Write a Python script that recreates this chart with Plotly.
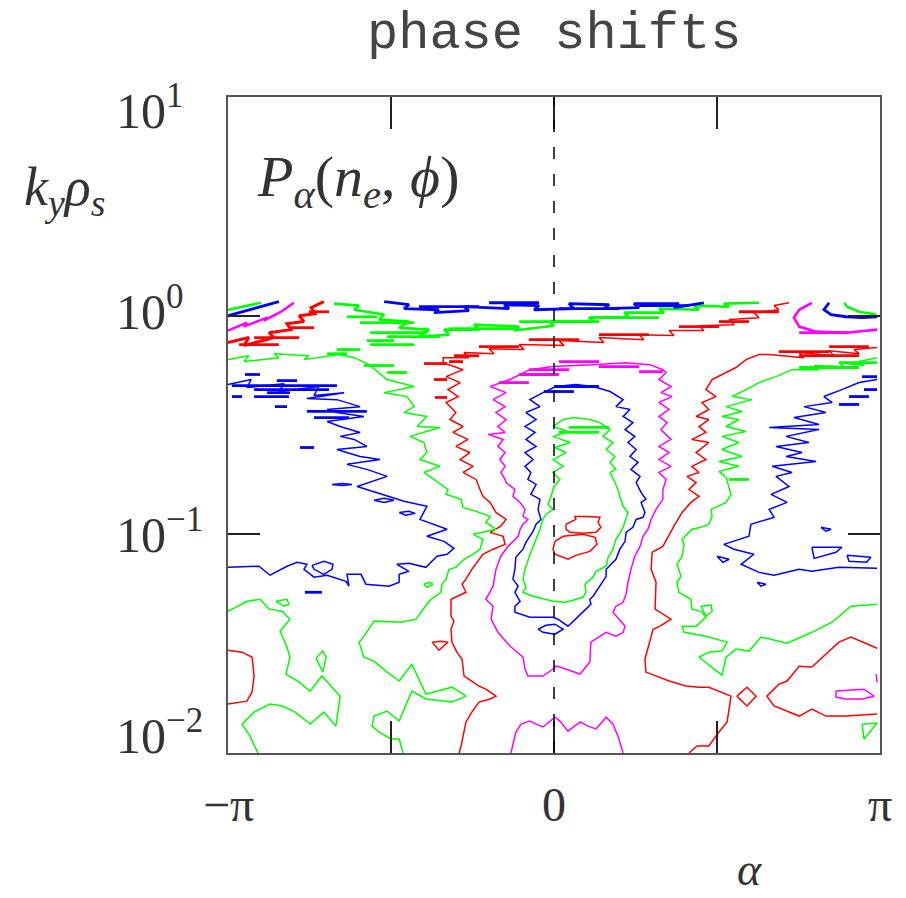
import numpy as np
import plotly.graph_objects as go

# ---------------------------------------------------------------------------
# Data.  Each contour is a list of (alpha/pi, log10(k_y rho_s))
# ---------------------------------------------------------------------------
red_core1 = [(0.037,-0.954),(0.067,-0.932),(0.064,-0.918),(0.098,-0.918),(0.141,-0.922),(0.135,-0.945),
             (0.144,-0.968),(0.129,-0.991),(0.089,-0.995),(0.049,-0.991),(0.037,-0.977),(0.037,-0.954)]
red_core2 = [(0.003,-1.032),(0.028,-1.009),(0.089,-1.000),(0.126,-1.014),(0.132,-1.046),(0.110,-1.078),
             (0.067,-1.096),(0.043,-1.114),(0.003,-1.091),(-0.003,-1.068),(0.003,-1.032)]

green_core = [(0.028,-0.475),(0.061,-0.466),(0.110,-0.475),(0.141,-0.489),(0.172,-0.521),(0.150,-0.552),
              (0.181,-0.580),(0.160,-0.612),(0.187,-0.644),(0.172,-0.671),(0.190,-0.703),(0.172,-0.717),
              (0.187,-0.763),(0.196,-0.795),(0.202,-0.826),(0.212,-0.872),(0.227,-0.900),(0.221,-0.932),
              (0.212,-0.968),(0.190,-1.023),(0.181,-1.068),(0.166,-1.105),(0.160,-1.146),(0.129,-1.169),
              (0.120,-1.196),(0.095,-1.228),(0.098,-1.265),(0.089,-1.288),(0.037,-1.311),(-0.003,-1.306),
              (-0.064,-1.283),(-0.095,-1.265),(-0.086,-1.242),(-0.095,-1.205),(-0.089,-1.160),(-0.071,-1.082),
              (-0.055,-1.023),(-0.043,-0.977),(-0.034,-0.932),(-0.025,-0.909),(-0.003,-0.886),(-0.018,-0.863),
              (-0.009,-0.826),(0.000,-0.781),(0.018,-0.749),(-0.003,-0.717),(0.028,-0.689),(-0.003,-0.658),
              (0.037,-0.626),(0.003,-0.603),(0.049,-0.580),(-0.003,-0.552),(0.043,-0.530),(-0.003,-0.507),
              (0.028,-0.475)]

blue_core = [(-0.034,-0.352),(0.006,-0.324),(0.067,-0.315),(0.120,-0.324),(0.172,-0.347),(0.212,-0.384),
             (0.190,-0.416),(0.233,-0.429),(0.212,-0.461),(0.242,-0.489),(0.218,-0.521),(0.248,-0.552),
             (0.227,-0.580),(0.252,-0.612),(0.233,-0.644),(0.258,-0.671),(0.236,-0.703),(0.264,-0.735),
             (0.252,-0.763),(0.267,-0.808),(0.282,-0.840),(0.267,-0.854),(0.279,-0.900),(0.273,-0.922),
             (0.252,-0.932),(0.242,-0.968),(0.221,-0.991),(0.218,-1.032),(0.202,-1.068),(0.190,-1.114),
             (0.181,-1.128),(0.160,-1.160),(0.160,-1.192),(0.141,-1.237),(0.120,-1.283),(0.110,-1.297),
             (0.113,-1.320),(0.098,-1.342),(0.058,-1.402),(0.043,-1.420),(0.012,-1.388),(-0.003,-1.379),
             (-0.074,-1.379),(-0.120,-1.356),(-0.120,-1.329),(-0.104,-1.306),(-0.120,-1.265),(-0.110,-1.237),
             (-0.126,-1.205),(-0.120,-1.160),(-0.117,-1.105),(-0.095,-1.068),(-0.086,-1.037),(-0.074,-1.009),
             (-0.064,-0.986),(-0.055,-0.954),(-0.040,-0.932),(-0.049,-0.886),(-0.043,-0.840),(-0.071,-0.817),
             (-0.055,-0.772),(-0.080,-0.749),(-0.071,-0.717),(-0.089,-0.689),(-0.064,-0.658),(-0.089,-0.626),
             (-0.055,-0.598),(-0.086,-0.566),(-0.058,-0.534),(-0.089,-0.507),(-0.055,-0.475),(-0.086,-0.443),
             (-0.043,-0.416),(-0.074,-0.384),(-0.034,-0.352)]
blue_core_small = [(-0.049,-1.434),(-0.025,-1.416),(0.003,-1.411),(0.028,-1.434),(0.003,-1.457),(-0.034,-1.448),(-0.049,-1.434)]

magenta_loop = [(-0.196,-0.324),(-0.135,-0.292),(-0.074,-0.247),(-0.003,-0.233),(0.120,-0.224),(0.221,-0.215),
                (0.294,-0.224),(0.334,-0.247),(0.344,-0.260),(0.322,-0.292),(0.359,-0.324),(0.328,-0.352),
                (0.362,-0.370),(0.322,-0.397),(0.353,-0.429),(0.322,-0.461),(0.347,-0.489),(0.328,-0.521),
                (0.359,-0.566),(0.322,-0.598),(0.353,-0.626),(0.322,-0.658),(0.359,-0.689),(0.322,-0.717),
                (0.344,-0.749),(0.334,-0.795),(0.334,-0.840),(0.313,-0.886),(0.298,-0.932),(0.288,-0.977),
                (0.273,-1.009),(0.264,-1.055),(0.248,-1.100),(0.236,-1.160),(0.227,-1.219),(0.221,-1.274),
                (0.212,-1.311),(0.190,-1.329),(0.181,-1.356),(0.218,-1.420),(0.212,-1.448),(0.190,-1.466),
                (0.160,-1.448),(0.113,-1.493),(0.110,-1.584),(0.080,-1.639),(0.018,-1.607),(0.006,-1.603),
                (-0.003,-1.616),(-0.034,-1.648),(-0.080,-1.648),(-0.089,-1.616),(-0.095,-1.562),(-0.135,-1.511),
                (-0.172,-1.448),(-0.193,-1.388),(-0.187,-1.329),(-0.209,-1.297),(-0.187,-1.237),(-0.178,-1.160),
                (-0.163,-1.100),(-0.141,-1.055),(-0.110,-1.009),(-0.104,-0.977),(-0.095,-0.954),(-0.080,-0.932),
                (-0.095,-0.918),(-0.089,-0.886),(-0.104,-0.854),(-0.126,-0.826),(-0.120,-0.795),(-0.147,-0.763),
                (-0.150,-0.749),(-0.163,-0.717),(-0.150,-0.689),(-0.166,-0.658),(-0.150,-0.626),(-0.172,-0.598),
                (-0.156,-0.566),(-0.202,-0.543),(-0.150,-0.534),(-0.172,-0.507),(-0.147,-0.475),(-0.178,-0.443),
                (-0.150,-0.416),(-0.187,-0.384),(-0.147,-0.352),(-0.196,-0.324)]
magenta_bottom = [(-0.132,-2.0),(-0.117,-1.904),(-0.101,-1.868),(-0.074,-1.854),(-0.055,-1.868),(-0.034,-1.881),
                  (0.003,-1.836),(0.018,-1.854),(0.043,-1.900),(0.080,-1.858),(0.104,-1.877),(0.129,-1.890),
                  (0.160,-1.836),(0.181,-1.868),(0.196,-1.922),(0.212,-2.0)]
magenta_small = [(0.865,-1.717),(0.905,-1.712),(0.951,-1.708),(0.982,-1.740),(0.945,-1.753),(0.896,-1.753),(0.865,-1.744),(0.865,-1.717)]
magenta_edge = [(0.988,-1.639),(0.991,-1.676)]
magenta_topleft = [(-1.0,-0.068),(-0.942,-0.032),(-0.951,-0.050),(-0.880,-0.009),(-0.890,-0.023),(-0.837,0.018),(-0.798,0.059)]
magenta_topright = [(0.791,0.059),(0.752,0.027),(0.736,-0.009),(0.752,-0.050),(0.804,-0.073),(0.896,-0.078),(0.991,-0.064)]

red_mid = [(0.721,0.059),(0.675,0.046),(0.690,0.027),(0.613,0.014),(0.629,-0.009),(0.537,-0.018),(0.552,-0.041),
           (0.445,-0.046),(0.460,-0.068),(0.353,-0.068),(0.368,-0.091),(0.261,-0.087),(0.276,-0.110),(0.138,-0.100),
           (0.153,-0.123),(0.015,-0.114),(0.031,-0.137),(-0.107,-0.132),(-0.092,-0.155),(-0.199,-0.151),(-0.184,-0.174),
           (-0.276,-0.169),(-0.261,-0.192),(-0.340,-0.192),(-0.340,-0.215),(-0.279,-0.247),(-0.331,-0.279),
           (-0.288,-0.306),(-0.325,-0.338),(-0.294,-0.370),(-0.331,-0.397),(-0.301,-0.443),(-0.319,-0.475),
           (-0.279,-0.507),(-0.310,-0.534),(-0.264,-0.566),(-0.301,-0.598),(-0.258,-0.626),(-0.288,-0.658),
           (-0.248,-0.689),(-0.279,-0.717),(-0.239,-0.749),(-0.227,-0.795),(-0.218,-0.826),(-0.196,-0.854),
           (-0.178,-0.900),(-0.147,-0.932),(-0.163,-0.963),(-0.196,-0.991),(-0.156,-1.009),(-0.150,-1.046),
           (-0.187,-1.068),(-0.218,-1.091),(-0.236,-1.128),(-0.252,-1.160),(-0.270,-1.205),(-0.282,-1.228),
           (-0.270,-1.265),(-0.316,-1.297),(-0.316,-1.374),(-0.307,-1.397),(-0.316,-1.434),(-0.313,-1.493),
           (-0.298,-1.539),(-0.282,-1.571),(-0.276,-1.648),(-0.230,-1.694),(-0.209,-1.708),(-0.178,-1.740),
           (-0.196,-1.753),(-0.230,-1.767),(-0.252,-1.813),(-0.270,-1.858),(-0.285,-1.968),(-0.291,-2.0)]
red_right = [(0.991,-0.146),(0.920,-0.155),(0.936,-0.174),(0.844,-0.160),(0.859,-0.183),(0.752,-0.169),(0.767,-0.192),
             (0.660,-0.178),(0.629,-0.178),(0.589,-0.201),(0.558,-0.237),(0.528,-0.260),(0.485,-0.292),(0.466,-0.338),
             (0.497,-0.370),(0.454,-0.397),(0.475,-0.429),(0.436,-0.461),(0.475,-0.475),(0.445,-0.507),(0.466,-0.534),
             (0.423,-0.566),(0.475,-0.580),(0.436,-0.626),(0.466,-0.658),(0.423,-0.689),(0.445,-0.717),(0.408,-0.735),
             (0.436,-0.763),(0.414,-0.795),(0.445,-0.826),(0.420,-0.854),(0.393,-0.900),(0.368,-0.963),(0.334,-1.055),
             (0.301,-1.082),(0.298,-1.160),(0.313,-1.219),(0.310,-1.342),(0.359,-1.388),(0.325,-1.420),(0.304,-1.434),
             (0.279,-1.571),(0.282,-1.630),(0.334,-1.662),(0.353,-1.671),(0.405,-1.694),(0.445,-1.699),(0.475,-1.699),
             (0.543,-1.740),(0.531,-1.858),(0.506,-1.904),(0.475,-1.968),(0.439,-1.968),(0.414,-2.0)]
red_wedge = [(0.991,-1.521),(0.911,-1.470),(0.874,-1.493),(0.791,-1.607),(0.752,-1.603),(0.715,-1.671),(0.690,-1.685),
             (0.653,-1.740),(0.675,-1.785),(0.752,-1.831),(0.791,-1.799),(0.834,-1.831),(0.896,-1.831),(0.936,-1.826),(0.991,-1.822)]
red_diamond = [(0.561,-1.740),(0.592,-1.699),(0.620,-1.740),(0.592,-1.785),(0.561,-1.740)]
red_leftedge = [(-1.0,-1.530),(-0.957,-1.539),(-0.926,-1.562),(-0.920,-1.648),(-0.926,-1.721),(-0.942,-1.763),(-1.0,-1.776)]
red_small = [(-0.374,-1.493),(-0.347,-1.489),(-0.325,-1.493),(-0.353,-1.530),(-0.374,-1.493)]
red_topleft = [(-1.0,-0.123),(-0.936,-0.100),(-0.951,-0.137),(-0.859,-0.100),(-0.874,-0.078),(-0.807,-0.064),
               (-0.819,-0.037),(-0.767,-0.027),(-0.782,0.0),(-0.733,0.009),(-0.745,0.037),(-0.706,0.064)]

green_left = [(-1.0,-0.201),(-0.936,-0.183),(-0.951,-0.210),(-0.844,-0.192),(-0.859,-0.174),(-0.752,-0.183),
              (-0.767,-0.201),(-0.660,-0.178),(-0.613,-0.192),(-0.567,-0.224),(-0.512,-0.292),(-0.429,-0.324),
              (-0.521,-0.352),(-0.451,-0.370),(-0.429,-0.416),(-0.460,-0.443),(-0.390,-0.461),(-0.420,-0.507),
              (-0.350,-0.511),(-0.442,-0.552),(-0.399,-0.580),(-0.390,-0.626),(-0.411,-0.658),(-0.350,-0.689),
              (-0.399,-0.717),(-0.368,-0.749),(-0.340,-0.781),(-0.325,-0.795),(-0.331,-0.817),(-0.285,-0.840),
              (-0.279,-0.877),(-0.239,-0.895),(-0.196,-0.918),(-0.209,-0.945),(-0.178,-0.977),(-0.248,-1.000),
              (-0.218,-1.023),(-0.227,-1.068),(-0.248,-1.091),(-0.264,-1.105),(-0.276,-1.114),(-0.301,-1.151),
              (-0.322,-1.160),(-0.331,-1.205),(-0.344,-1.228),(-0.347,-1.265),(-0.377,-1.297),(-0.390,-1.320),
              (-0.423,-1.388),(-0.469,-1.402),(-0.552,-1.397),(-0.589,-1.479),(-0.598,-1.493),(-0.583,-1.562),
              (-0.552,-1.580),(-0.512,-1.630),(-0.475,-1.671),(-0.436,-1.594),(-0.393,-1.731),(-0.313,-1.699),
              (-0.270,-1.740),(-0.313,-1.767),(-0.393,-1.753),(-0.436,-1.717),(-0.475,-1.854),(-0.512,-1.808),
              (-0.552,-1.831),(-0.558,-1.877),(-0.537,-1.904),(-0.500,-1.936),(-0.475,-1.936),(-0.463,-2.0)]
green_bottomleft = [(-1.0,-1.352),(-0.942,-1.306),(-0.902,-1.297),(-0.874,-1.342),(-0.834,-1.352),(-0.810,-1.388),
                    (-0.840,-1.443),(-0.819,-1.516),(-0.810,-1.562),(-0.822,-1.639),(-0.782,-1.676),(-0.748,-1.717),
                    (-0.712,-1.648),(-0.656,-1.740),(-0.669,-1.877),(-0.706,-1.813),(-0.748,-1.868),(-0.794,-1.813),
                    (-0.834,-1.785),(-0.871,-1.776),(-0.920,-1.813),(-0.957,-1.868),(-0.933,-1.922),(-0.908,-2.0)]
green_small1 = [(-0.853,-1.306),(-0.819,-1.297),(-0.813,-1.320),(-0.828,-1.329),(-0.853,-1.306)]
green_small2 = [(-0.730,-1.566),(-0.709,-1.534),(-0.699,-1.562),(-0.709,-1.630),(-0.730,-1.566)]
green_small3 = [(-0.399,-1.228),(-0.383,-1.219),(-0.371,-1.228),(-0.390,-1.242),(-0.399,-1.228)]
green_right = [(0.991,-0.192),(0.936,-0.210),(0.951,-0.228),(0.874,-0.215),(0.890,-0.233),(0.798,-0.228),(0.813,-0.247),
               (0.730,-0.247),(0.681,-0.279),(0.629,-0.306),(0.589,-0.338),(0.546,-0.370),(0.607,-0.384),(0.528,-0.416),
               (0.577,-0.438),(0.515,-0.461),(0.567,-0.475),(0.528,-0.507),(0.589,-0.530),(0.515,-0.552),(0.567,-0.580),
               (0.515,-0.612),(0.577,-0.644),(0.506,-0.667),(0.567,-0.689),(0.506,-0.712),(0.528,-0.740),(0.543,-0.817),
               (0.528,-0.854),(0.482,-0.886),(0.485,-0.918),(0.475,-0.954),(0.451,-0.968),(0.423,-0.977),(0.393,-1.023),
               (0.399,-1.046),(0.393,-1.100),(0.377,-1.137),(0.390,-1.192),(0.377,-1.219),(0.383,-1.265),(0.420,-1.297),
               (0.423,-1.342),(0.451,-1.352),(0.466,-1.379),(0.436,-1.420),(0.393,-1.420),(0.399,-1.448),(0.466,-1.466),
               (0.531,-1.493),(0.515,-1.534),(0.475,-1.539),(0.445,-1.562),(0.515,-1.644),(0.528,-1.562),(0.558,-1.525),
               (0.598,-1.534),(0.635,-1.470),(0.715,-1.498),(0.791,-1.448),(0.853,-1.402),(0.911,-1.329),(0.991,-1.320)]
green_small4 = [(0.451,-1.329),(0.482,-1.324),(0.485,-1.352),(0.466,-1.374),(0.451,-1.329)]
green_small5 = [(0.945,-1.868),(0.991,-1.863),(0.951,-1.936),(0.945,-1.868)]
green_upper = [(-0.675,0.055),(-0.598,0.046),(-0.613,0.027),(-0.521,0.005),(-0.537,-0.018),(-0.445,-0.027),
               (-0.475,-0.055),(-0.383,-0.064),(-0.414,-0.096),(-0.322,-0.087),(-0.337,-0.064),(-0.230,-0.064),
               (-0.245,-0.041),(-0.107,-0.050),(-0.123,-0.068),(0.0,-0.046),(-0.015,-0.027),(0.123,-0.027),
               (0.107,-0.009),(0.230,-0.005),(0.215,0.014),(0.337,0.014),(0.322,0.032),(0.445,0.027),
               (0.429,0.046),(0.537,0.041),(0.521,0.055),(0.629,0.059)]
green_topleft = [(-1.0,0.027),(-0.899,0.059)]
green_topright = [(0.890,0.059),(0.899,0.041),(0.936,0.018),(0.988,0.005)]

blue_top = [(-0.521,0.064),(-0.445,0.050),(-0.460,0.032),(-0.353,0.027),(-0.368,0.014),(-0.261,0.023),(-0.276,0.041),
            (-0.138,0.032),(-0.153,0.050),(-0.046,0.046),(-0.061,0.027),(0.061,0.032),(0.046,0.055),(0.169,0.050),
            (0.153,0.032),(0.261,0.037),(0.245,0.055),(0.383,0.055),(0.368,0.037),(0.460,0.059)]
blue_topleft = [(-1.0,0.0),(-0.933,0.027),(-0.871,0.050),(-0.844,0.064)]
blue_topright = [(0.844,0.059),(0.828,0.027),(0.850,0.005),(0.896,-0.005),(0.945,-0.009),(0.991,-0.005)]
blue_left = [(-1.0,-0.315),(-0.929,-0.292),(-0.942,-0.329),(-0.828,-0.311),(-0.844,-0.347),(-0.721,-0.324),
             (-0.736,-0.365),(-0.644,-0.352),(-0.758,-0.379),(-0.666,-0.384),(-0.595,-0.416),(-0.696,-0.429),
             (-0.666,-0.443),(-0.583,-0.461),(-0.696,-0.484),(-0.656,-0.507),(-0.595,-0.534),(-0.656,-0.552),
             (-0.613,-0.566),(-0.574,-0.598),(-0.666,-0.612),(-0.595,-0.644),(-0.534,-0.658),(-0.635,-0.680),
             (-0.574,-0.703),(-0.512,-0.735),(-0.604,-0.781),(-0.512,-0.826),(-0.460,-0.849),(-0.390,-0.872),
             (-0.411,-0.932),(-0.328,-0.977),(-0.390,-1.009),(-0.337,-1.032),(-0.307,-1.064),(-0.328,-1.091),
             (-0.359,-1.100),(-0.393,-1.151),(-0.445,-1.132),(-0.482,-1.137),(-0.445,-1.169),(-0.475,-1.183),
             (-0.475,-1.219),(-0.506,-1.237),(-0.577,-1.228),(-0.592,-1.183),(-0.635,-1.183),(-0.629,-1.237),
             (-0.638,-1.215),(-0.696,-1.187),(-0.736,-1.196),(-0.767,-1.160),(-0.758,-1.137),(-0.788,-1.128),
             (-0.819,-1.146),(-0.871,-1.187),(-0.905,-1.146),(-1.0,-1.151)]
blue_right = [(0.991,-0.292),(0.936,-0.306),(0.883,-0.338),(0.828,-0.370),(0.853,-0.397),(0.767,-0.416),(0.834,-0.443),
              (0.736,-0.466),(0.813,-0.498),(0.660,-0.511),(0.813,-0.521),(0.712,-0.552),(0.782,-0.580),(0.681,-0.598),
              (0.761,-0.626),(0.712,-0.644),(0.804,-0.667),(0.669,-0.689),(0.730,-0.717),(0.681,-0.735),(0.721,-0.781),
              (0.666,-0.817),(0.715,-0.854),(0.660,-0.886),(0.675,-0.922),(0.604,-0.954),(0.598,-1.009),(0.521,-1.046),
              (0.552,-1.068),(0.613,-1.091),(0.574,-1.137),(0.629,-1.174),(0.675,-1.187),(0.752,-1.160),(0.791,-1.169),
              (0.874,-1.151),(0.991,-1.155)]
blue_loop_hex = [(-0.742,-1.142),(-0.706,-1.123),(-0.678,-1.137),(-0.681,-1.160),(-0.706,-1.183),(-0.736,-1.160),(-0.742,-1.142)]
blue_loop_a = [(-0.681,-0.772),(-0.650,-0.767),(-0.620,-0.772),(-0.650,-0.777),(-0.681,-0.772)]
blue_loop_b = [(-0.552,-0.844),(-0.521,-0.835),(-0.491,-0.844),(-0.521,-0.854),(-0.552,-0.844)]
blue_loop_c = [(-0.475,-0.900),(-0.445,-0.895),(-0.426,-0.904),(-0.455,-0.913),(-0.475,-0.900)]
blue_loop_d = [(0.791,-1.059),(0.883,-1.059),(0.865,-1.082),(0.798,-1.110),(0.791,-1.059)]
blue_loop_e = [(0.899,-1.096),(0.972,-1.105),(0.959,-1.128),(0.905,-1.123),(0.899,-1.096)]
blue_loop_f = [(0.500,-1.100),(0.537,-1.114),(0.518,-1.128),(0.500,-1.100)]
blue_loop_g = [(0.819,-0.968),(0.850,-0.977),(0.834,-0.986),(0.819,-0.968)]
blue_loop_h = [(0.623,-1.219),(0.650,-1.228),(0.635,-1.237),(0.623,-1.219)]

# short noisy strokes: (alpha0/pi, alpha1/pi, log10 k)
red_dashes = [(-0.230,-0.107,-0.142),(-0.077,0.077,-0.110),(0.138,0.291,-0.087),(0.383,0.506,-0.050),
              (0.506,0.598,-0.027),(0.567,0.690,0.018),(-0.307,-0.230,-0.183),(-0.322,-0.279,-0.210),
              (-0.966,-0.844,-0.132),(-0.920,-0.782,-0.100),(-0.813,-0.736,-0.055),(-0.752,-0.690,0.018),
              (-0.399,-0.328,-0.219),(-0.368,-0.328,-0.292),(-0.365,-0.328,-0.374),(0.690,0.844,-0.164),
              (0.844,0.966,-0.142),(0.752,0.936,-0.183)]
green_dashes = [(-0.635,-0.543,-0.005),(-0.595,-0.429,-0.032),(-0.564,-0.390,-0.078),(-0.512,-0.350,-0.096),
                (-0.574,-0.491,-0.114),(-0.564,-0.429,-0.132),(-0.666,-0.595,-0.155),(-0.696,-0.635,-0.174),
                (-0.583,-0.491,-0.228),(-0.512,-0.451,-0.260),(-0.322,-0.107,-0.059),(-0.107,0.138,-0.027),
                (0.138,0.322,-0.009),(0.752,0.936,-0.237),(0.874,0.991,-0.215),(0.015,0.138,-0.534),
                (0.046,0.169,-0.511),(0.537,0.598,-0.749)]
blue_dashes = [(-0.414,-0.230,0.041),(-0.199,-0.046,0.059),(0.015,0.199,0.032),(0.261,0.414,0.046),
               (-0.948,-0.902,-0.269),(-0.850,-0.788,-0.297),(-0.988,-0.666,-0.320),(-0.920,-0.690,-0.338),
               (-0.880,-0.810,-0.352),(-0.988,-0.957,-0.370),(-0.920,-0.813,-0.370),(-0.856,-0.819,-0.416),
               (-0.758,-0.574,-0.438),(-0.736,-0.629,-0.466),(0.0,0.138,-0.324),(-0.031,0.061,-0.347),
               (0.945,0.991,-0.279),(0.951,0.991,-0.338),(0.905,0.966,-0.370),(0.874,0.936,-0.406),
               (-0.779,-0.736,-0.603),(-0.764,-0.712,-1.265)]
magenta_dashes = [(-0.077,0.046,-0.247),(0.015,0.138,-0.210),(0.138,0.261,-0.233),(-0.107,0.015,-0.269),
                  (0.261,0.334,-0.256),(-0.169,-0.077,-0.306),(0.752,0.905,-0.078)]

x_tick_text = ["\u2212\u03c0", "0", "\u03c0"]
y_tick_text = ["10<sup>1</sup>", "10<sup>0</sup>", "10<sup>\u22121</sup>", "10<sup>\u22122</sup>"]

RED, GREEN, BLUE, MAGENTA = "#ff0000", "#00ff00", "#0000ff", "#ff00ff"

fig = go.Figure()


def add_path(pts, color, width=1.5):
    a = np.array([p[0] for p in pts])
    lk = np.array([p[1] for p in pts])
    fig.add_trace(go.Scatter(x=np.pi * a, y=10.0 ** lk, mode="lines",
                             line=dict(color=color, width=width),
                             showlegend=False, hoverinfo="skip"))


def add_dashes(segs, color, width=2.8):
    xs, ys = [], []
    for a0, a1, lk in segs:
        xs += [np.pi * a0, np.pi * a1, None]
        ys += [10.0 ** lk, 10.0 ** lk, None]
    fig.add_trace(go.Scatter(x=xs, y=ys, mode="lines", line=dict(color=color, width=width),
                             showlegend=False, hoverinfo="skip"))


for p in [red_core1, red_core2, red_mid, red_right, red_wedge, red_diamond, red_leftedge, red_small]:
    add_path(p, RED)
add_path(red_topleft, RED, 3)
for p in [green_core, green_left, green_bottomleft, green_small1, green_small2, green_small3,
          green_right, green_small4, green_small5]:
    add_path(p, GREEN)
for p in [green_upper, green_topleft, green_topright]:
    add_path(p, GREEN, 2.6)
for p in [blue_core, blue_core_small, blue_left, blue_right, blue_loop_hex, blue_loop_a, blue_loop_b,
          blue_loop_c, blue_loop_d, blue_loop_e, blue_loop_f, blue_loop_g, blue_loop_h]:
    add_path(p, BLUE)
for p in [blue_top, blue_topleft, blue_topright]:
    add_path(p, BLUE, 2.8)
for p in [magenta_loop, magenta_bottom, magenta_small, magenta_edge]:
    add_path(p, MAGENTA)
for p in [magenta_topleft, magenta_topright]:
    add_path(p, MAGENTA, 2.6)
add_dashes(red_dashes, RED)
add_dashes(green_dashes, GREEN)
add_dashes(blue_dashes, BLUE)
add_dashes(magenta_dashes, MAGENTA)

# dashed vertical line at alpha = 0
fig.add_shape(type="line", x0=0, x1=0, y0=0, y1=1, xref="x", yref="paper",
              line=dict(color="black", width=1.5, dash="12px,15px"))

axis_common = dict(showgrid=False, zeroline=False, showline=True, linecolor="#555555", linewidth=2,
                   mirror="allticks", ticks="inside", ticklen=32, tickwidth=1.5, tickcolor="#222222",
                   showticklabels=False)
fig.update_layout(
    width=906, height=898,
    margin=dict(l=228, r=26, t=97, b=145),
    paper_bgcolor="white", plot_bgcolor="white", showlegend=False,
    xaxis=dict(range=[-np.pi, np.pi], tickvals=[-np.pi / 2, 0, np.pi / 2], **axis_common),
    yaxis=dict(type="log", range=[-2, 1], tickvals=[0.01, 0.1, 1, 10], **axis_common),
)

serif = "Liberation Serif"
TXT = "#333333"
ann = []
ann.append(dict(text="phase shifts", x=0.5, y=1.095, xref="paper", yref="paper", xanchor="center",
                yanchor="middle", showarrow=False, font=dict(family="Liberation Mono", size=52, color="#444444")))
for val, txt in zip([-np.pi, 0, np.pi], x_tick_text):
    ann.append(dict(text=txt, x=val, y=-0.079, xref="x", yref="paper", xanchor="center", yanchor="middle",
                    showarrow=False, font=dict(family=serif, size=48, color=TXT)))
for yv, txt, anc in zip([1.035, 0.678, 0.337, -0.02], y_tick_text, ["top", "middle", "middle", "bottom"]):
    ann.append(dict(text=txt, x=-0.175, y=yv, xref="paper", yref="paper", xanchor="left", yanchor=anc,
                    showarrow=False, font=dict(family=serif, size=50, color=TXT)))
ann.append(dict(text="<i>k</i><sub><i>y</i></sub><i>\u03c1</i><sub><i>s</i></sub>", x=-0.316, y=0.858,
                xref="paper", yref="paper", xanchor="left", yanchor="middle", showarrow=False,
                font=dict(family=serif, size=54, color=TXT)))
ann.append(dict(text="<i>P</i><sub><i>\u03b1</i></sub>(<i>n</i><sub><i>e</i></sub>, <i>\u03d5</i>)", x=0.041,
                y=0.873, xref="paper", yref="paper", xanchor="left", yanchor="middle", showarrow=False,
                font=dict(family=serif, size=58, color=TXT)))
ann.append(dict(text="<i>\u03b1</i>", x=0.8, y=-0.178, xref="paper", yref="paper", xanchor="center",
                yanchor="middle", showarrow=False, font=dict(family=serif, size=46, color=TXT)))
fig.update_layout(annotations=ann)

fig.write_html("out.html")
